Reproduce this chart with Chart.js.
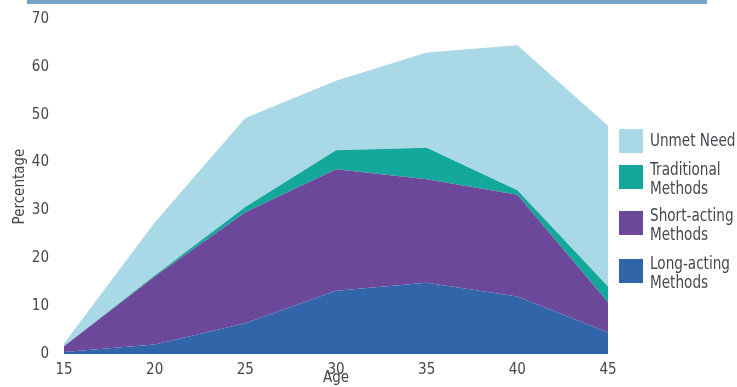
<!DOCTYPE html>
<html>
<head>
<meta charset="utf-8">
<script src="https://cdn.jsdelivr.net/npm/chart.js@4"></script>
<style>
  html, body { margin: 0; padding: 0; background: #ffffff; }
  #wrap { position: relative; width: 737px; height: 387px; }
</style>
</head>
<body>
<div id="wrap"><canvas id="chart" width="737" height="387"></canvas></div>
<script>
// Age groups along the x axis
const ages = ['15', '20', '25', '30', '35', '40', '45'];

// Percentage of women in each group (stacked bottom to top)
const longActing  = [0.4, 2.0, 6.4, 13.2, 14.9, 12.0, 4.5];
const shortActing = [1.2, 14.2, 23.2, 25.4, 21.6, 21.3, 6.3];
const traditional = [0.0, 0.2, 1.1, 4.0, 6.6, 0.9, 3.3];
const unmetNeed   = [0.6, 11.1, 18.6, 14.5, 19.9, 30.3, 33.6];

// Legend text, split across lines
const legendLong  = ['Long-acting', 'Methods'];
const legendShort = ['Short-acting', 'Methods'];
const legendTrad  = ['Traditional', 'Methods'];
const legendUnmet = ['Unmet Need'];

const yTicks = [0, 10, 20, 30, 40, 50, 60, 70];

const FONT = "'Liberation Sans Narrow', 'DejaVu Sans Condensed', 'Arial Narrow', sans-serif";
const TEXT = '#46464f';

const colors = {
  long:  '#3264aa',
  short: '#6c489b',
  trad:  '#13a89b',
  unmet: '#a9d8e6'
};

function area(label, data, color, fill) {
  return {
    label: label,
    data: data,
    backgroundColor: color,
    borderColor: color,
    borderWidth: 0,
    pointRadius: 0,
    pointHoverRadius: 0,
    tension: 0,
    fill: fill
  };
}

// Thin rule across the top of the figure
const topRule = {
  id: 'topRule',
  beforeDraw(chart) {
    const ctx = chart.ctx;
    ctx.save();
    ctx.fillStyle = '#74a3c6';
    ctx.fillRect(27, 0, 680, 4);
    ctx.restore();
  }
};

// Square-swatch legend on the right, top entry = top of the stack.
// Text is squeezed horizontally to get a narrow, condensed look.
const sideLegend = {
  id: 'sideLegend',
  afterDraw(chart) {
    const ctx = chart.ctx;
    const sets = chart.data.datasets.slice().reverse();
    const swatchX = 619, size = 24, textX = 650, squeeze = 0.84;
    const tops = [129, 165, 211, 259];
    ctx.save();
    ctx.font = '18px ' + FONT;
    ctx.textBaseline = 'middle';
    sets.forEach((ds, i) => {
      const y = tops[i];
      ctx.fillStyle = ds.backgroundColor;
      ctx.fillRect(swatchX, y, size, size);
      ctx.fillStyle = TEXT;
      const lines = ds.label;
      const rows = lines.length === 1 ? [y + size / 2] : [y + 5, y + 24];
      lines.forEach((line, j) => {
        ctx.save();
        ctx.translate(textX, rows[j]);
        ctx.scale(squeeze, 1);
        ctx.fillText(line, 0, 0);
        ctx.restore();
      });
    });
    ctx.restore();
  }
};

new Chart(document.getElementById('chart'), {
  type: 'line',
  data: {
    labels: ages,
    datasets: [
      area(legendLong, longActing, colors.long, 'origin'),
      area(legendShort, shortActing, colors.short, '-1'),
      area(legendTrad, traditional, colors.trad, '-1'),
      area(legendUnmet, unmetNeed, colors.unmet, '-1')
    ]
  },
  options: {
    responsive: false,
    animation: false,
    devicePixelRatio: 1,
    layout: { padding: { top: 19, right: 129, left: 0, bottom: 0 } },
    plugins: {
      legend: { display: false },
      tooltip: { enabled: false }
    },
    scales: {
      x: {
        type: 'category',
        offset: false,
        grid: { display: false, drawTicks: false },
        border: { display: false },
        ticks: {
          color: TEXT,
          font: { family: FONT, size: 15 },
          padding: 7,
          maxRotation: 0
        },
        title: {
          display: true,
          text: 'Age',
          color: TEXT,
          font: { family: FONT, size: 15 },
          padding: { top: 0, bottom: 0 }
        },
        afterFit(scale) {
          scale.height = 33;
          scale.paddingLeft = 0;
          scale.paddingRight = 0;
        }
      },
      y: {
        stacked: true,
        min: 0,
        max: 70,
        grid: { display: false, drawTicks: false },
        border: { display: false },
        afterBuildTicks(scale) { scale.ticks = yTicks.map(v => ({ value: v })); },
        ticks: {
          color: TEXT,
          font: { family: FONT, size: 15 },
          padding: 15
        },
        title: {
          display: true,
          text: 'Percentage',
          color: TEXT,
          font: { family: FONT, size: 15 },
          padding: { top: 11, bottom: 0 }
        },
        afterFit(scale) {
          scale.width = 64;
          scale.paddingTop = 0;
          scale.paddingBottom = 0;
        }
      }
    }
  },
  plugins: [topRule, sideLegend]
});
</script>
</body>
</html>
